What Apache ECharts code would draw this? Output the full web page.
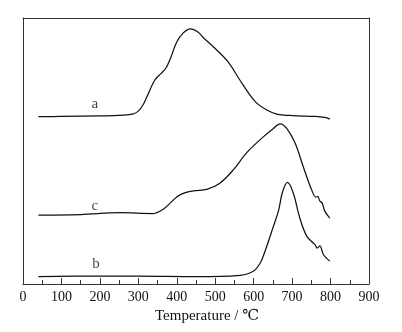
<!DOCTYPE html>
<html>
<head>
<meta charset="utf-8">
<script src="https://cdn.jsdelivr.net/npm/echarts@6/dist/echarts.min.js"></script>
<style>
  html, body { margin: 0; padding: 0; background: #fff; }
  #chart { width: 402px; height: 332px; }
</style>
</head>
<body>
<div id="chart"></div>
<script>
// Temperature axis ticks (°C)
const tempTicks = [0, 100, 200, 300, 400, 500, 600, 700, 800, 900];

// Profile a: [temperature, intensity (a.u.)]
const curveA = [
  [40, 62.9], [100, 63.0], [200, 63.2], [260, 63.5], [285, 63.9], [300, 65.0],
  [312, 67.3], [322, 70.3], [343, 76.7], [360, 79.3], [372, 81.2], [384, 85.0],
  [400, 91.0], [417, 94.4], [436, 95.9], [455, 94.7], [470, 92.5], [495, 89.2],
  [533, 83.6], [564, 76.7], [590, 71.1], [608, 68.0], [634, 65.4], [660, 63.9],
  [700, 63.3], [760, 63.0], [785, 62.6], [798, 62.0]
];

// Profile c
const curveC = [
  [40, 25.9], [150, 26.1], [252, 26.8], [339, 26.5], [365, 28.1], [382, 30.3],
  [408, 33.5], [443, 35.0], [478, 35.6], [512, 37.9], [547, 42.9], [582, 49.4],
  [625, 55.3], [650, 58.3], [669, 60.2], [686, 58.5], [708, 52.9], [729, 44.1],
  [751, 35.3], [762, 32.7], [767, 32.9], [772, 31.2], [778, 30.5], [785, 27.4],
  [798, 24.8]
];

// Profile b
const curveB = [
  [40, 2.8], [200, 3.0], [300, 3.0], [450, 2.8], [540, 3.0], [565, 3.2],
  [600, 4.9], [617, 7.9], [626, 10.9], [650, 21.1], [665, 27.8], [675, 34.6],
  [688, 38.2], [703, 34.2], [720, 24.8], [738, 18.0], [760, 14.7], [765, 13.5],
  [772, 14.3], [782, 10.9], [798, 8.6]
];

// Curve tags and where they sit
const tagNames = ['a', 'c', 'b'];
const tagPositions = [[187, 67.7], [187, 29.3], [190, 7.5]];

const serif = '"Liberation Serif", "Times New Roman", serif';
const ink = '#111';

const chart = echarts.init(document.getElementById('chart'), null, { renderer: 'canvas' });

function profile(data) {
  return {
    type: 'line',
    data: data,
    smooth: 0.35,
    showSymbol: false,
    symbol: 'none',
    lineStyle: { color: ink, width: 1.25 },
    animation: false
  };
}

chart.setOption({
  backgroundColor: '#fff',
  animation: false,
  grid: { left: 23, right: 33, top: 18, bottom: 48 },
  xAxis: [
    {
      type: 'value',
      min: tempTicks[0],
      max: tempTicks[tempTicks.length - 1],
      interval: 100,
      name: 'Temperature / ℃',
      nameLocation: 'middle',
      nameGap: 25,
      nameTextStyle: {
        fontFamily: '"Liberation Serif", "DejaVu Serif", serif',
        fontSize: 15, color: ink,
        padding: [0, 0, 0, 22]
      },
      axisLine: { show: true, onZero: false, lineStyle: { color: '#333', width: 1 } },
      axisTick: { show: true, inside: true, length: 6, lineStyle: { color: '#333' } },
      minorTick: { show: true, splitNumber: 2, length: 4, lineStyle: { color: '#333' } },
      axisLabel: { fontFamily: serif, fontSize: 14, color: ink, margin: 6 },
      splitLine: { show: false }
    },
    {
      type: 'value',
      position: 'top',
      min: tempTicks[0],
      max: tempTicks[tempTicks.length - 1],
      axisLine: { show: true, onZero: false, lineStyle: { color: '#333', width: 1 } },
      axisTick: { show: false },
      axisLabel: { show: false },
      splitLine: { show: false }
    }
  ],
  yAxis: [
    {
      type: 'value',
      min: 0,
      max: 100,
      axisLine: { show: true, onZero: false, lineStyle: { color: '#333', width: 1 } },
      axisTick: { show: false },
      axisLabel: { show: false },
      splitLine: { show: false }
    },
    {
      type: 'value',
      position: 'right',
      min: 0,
      max: 100,
      axisLine: { show: true, onZero: false, lineStyle: { color: '#333', width: 1 } },
      axisTick: { show: false },
      axisLabel: { show: false },
      splitLine: { show: false }
    }
  ],
  series: [
    profile(curveA),
    profile(curveC),
    profile(curveB),
    {
      type: 'scatter',
      symbolSize: 0,
      data: tagPositions.map((p, i) => ({ value: p, name: tagNames[i] })),
      label: {
        show: true,
        position: 'inside',
        formatter: p => p.name,
        fontFamily: serif,
        fontSize: 15,
        color: ink
      },
      silent: true,
      animation: false
    }
  ]
});
</script>
</body>
</html>
